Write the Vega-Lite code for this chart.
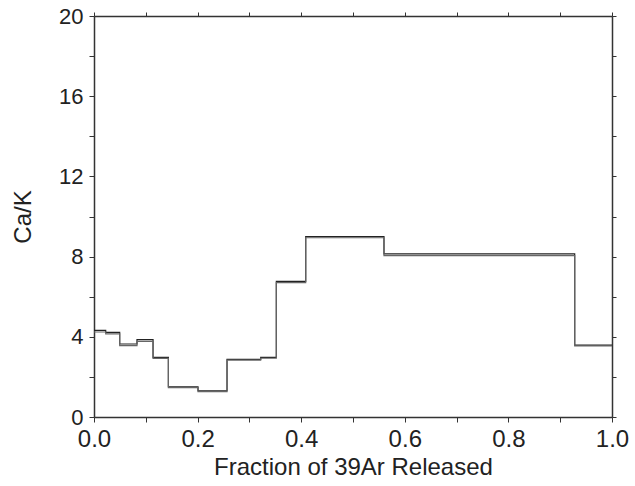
{
  "$schema": "https://vega.github.io/schema/vega-lite/v6.json",
  "autosize": "none",
  "width": 518,
  "height": 401,
  "padding": {"left": 94, "top": 16, "right": 23, "bottom": 69},
  "background": "white",
  "config": {
    "view": {"stroke": null},
    "font": "Liberation Sans",
    "axis": {
      "domainColor": "#333",
      "domainWidth": 1.5,
      "tickColor": "#333",
      "tickWidth": 1,
      "tickSize": 5,
      "grid": false,
      "labelFont": "Liberation Sans",
      "labelFontSize": 24,
      "labelColor": "#222",
      "titleFont": "Liberation Sans",
      "titleFontSize": 24,
      "titleFontWeight": "normal",
      "titleColor": "#222"
    }
  },
  "data": {
    "values": [
      {"frac": 0.0, "hi": 4.32, "lo": 4.24},
      {"frac": 0.0226, "hi": 4.22, "lo": 4.15},
      {"frac": 0.0496, "hi": 3.64, "lo": 3.56},
      {"frac": 0.083, "hi": 3.86, "lo": 3.77},
      {"frac": 0.114, "hi": 2.97, "lo": 2.92},
      {"frac": 0.1436, "hi": 1.51, "lo": 1.47},
      {"frac": 0.2008, "hi": 1.31, "lo": 1.27},
      {"frac": 0.2568, "hi": 2.87, "lo": 2.84},
      {"frac": 0.3218, "hi": 2.97, "lo": 2.93},
      {"frac": 0.352, "hi": 6.76, "lo": 6.7},
      {"frac": 0.4087, "hi": 9.0, "lo": 8.94},
      {"frac": 0.5598, "hi": 8.14, "lo": 8.05},
      {"frac": 0.928, "hi": 3.58, "lo": 3.54},
      {"frac": 1.0, "hi": 3.58, "lo": 3.54}
    ]
  },
  "layer": [
    {
      "mark": {"type": "line", "interpolate": "step-after", "color": "#222", "strokeWidth": 1.2},
      "encoding": {
        "x": {
          "field": "frac", "type": "quantitative",
          "scale": {"domain": [0, 1], "nice": false, "zero": false},
          "axis": {
            "orient": "bottom",
            "title": "Fraction of 39Ar Released",
            "values": [0, 0.1, 0.2, 0.3, 0.4, 0.5, 0.6, 0.7, 0.8, 0.9, 1.0],
            "labelExpr": "round(datum.value*10)%2==0 ? format(datum.value, '.1f') : ''",
            "labelPadding": 5,
            "titlePadding": 4,
            "labelFlush": false,
            "labelOverlap": false
          }
        },
        "y": {
          "field": "hi", "type": "quantitative",
          "scale": {"domain": [0, 20], "nice": false},
          "axis": {
            "orient": "left",
            "title": "Ca/K",
            "values": [0, 2, 4, 6, 8, 10, 12, 14, 16, 18, 20],
            "labelExpr": "datum.value%4==0 ? format(datum.value, 'd') : ''",
            "labelFontSize": 22,
            "labelPadding": 6,
            "titlePadding": 23,
            "labelFlush": false,
            "labelOverlap": false
          }
        }
      }
    },
    {
      "mark": {"type": "line", "interpolate": "step-after", "color": "#666", "strokeWidth": 1.2},
      "encoding": {
        "x": {
          "field": "frac", "type": "quantitative",
          "scale": {"domain": [0, 1], "nice": false, "zero": false},
          "axis": {
            "orient": "top",
            "title": null,
            "labels": false,
            "tickSize": 4,
            "values": [0, 0.1, 0.2, 0.3, 0.4, 0.5, 0.6, 0.7, 0.8, 0.9, 1.0]
          }
        },
        "y": {
          "field": "lo", "type": "quantitative",
          "scale": {"domain": [0, 20], "nice": false},
          "axis": {
            "orient": "right",
            "title": null,
            "labels": false,
            "tickSize": 4,
            "values": [0, 2, 4, 6, 8, 10, 12, 14, 16, 18, 20]
          }
        }
      }
    }
  ],
  "resolve": {"axis": {"x": "independent", "y": "independent"}}
}
